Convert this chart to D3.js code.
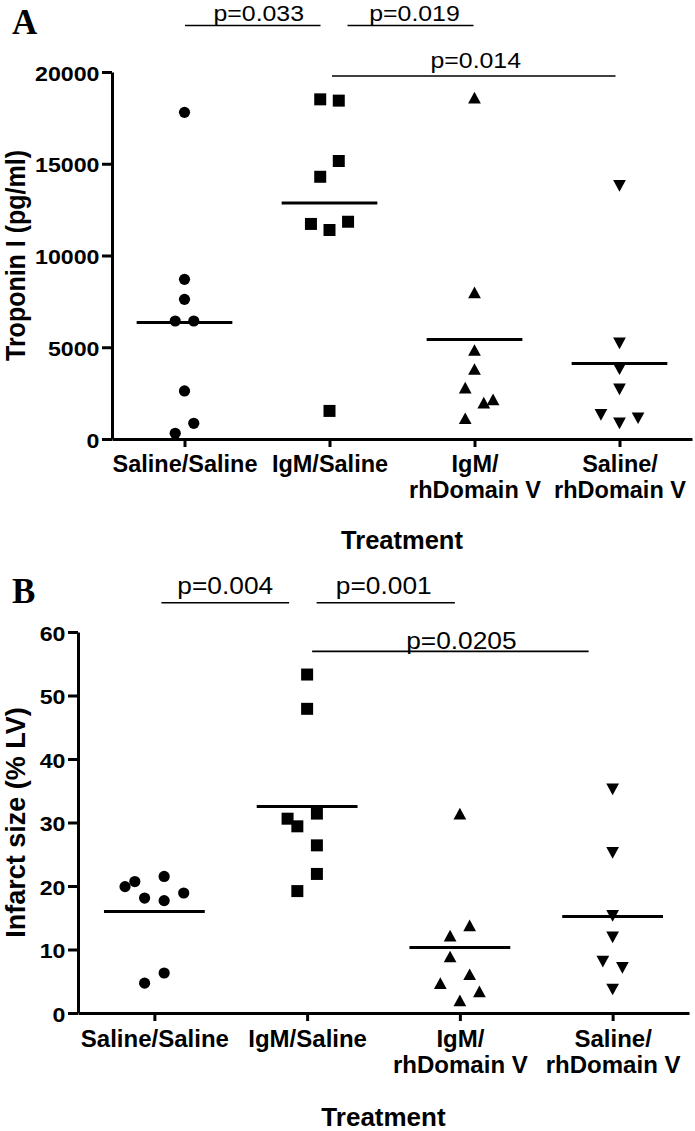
<!DOCTYPE html>
<html><head><meta charset="utf-8">
<script src="https://cdn.jsdelivr.net/npm/d3@7"></script>
<style>
html,body{margin:0;padding:0;background:#fff;}
svg{display:block;}
text{font-family:"Liberation Sans", Arial, sans-serif; fill:#000;}
</style></head><body>
<svg id="chart" width="695" height="1131"></svg>
<script>
// ---------- DATA ----------
const categories = ["Saline/Saline", "IgM/Saline", "IgM/\nrhDomain V", "Saline/\nrhDomain V"];

// Panel A – Troponin I (pg/ml)
const troponinSalineSaline  = [17800, 8700, 7610, 6430, 6430, 2620, 855, 310];
const troponinIgMSaline     = [18510, 18440, 15150, 14290, 11720, 11390, 11840, 1530];
const troponinIgMDomainV    = [18600, 7990, 4850, 3815, 2800, 1980, 2160, 1130];
const troponinSalineDomainV = [13800, 5210, 3800, 2710, 1310, 855, 1130];
// horizontal jitter slot of each point (column index within its group)
const troponinSlots = [[0,0,0,-1,1,0,1,-1], [-1,1,1,-1,-2,0,2,0], [0,0,0,0,-1,1,2,-1], [0,0,0,0,-2,0,2]];
const troponinTicks = [0, 5000, 10000, 15000, 20000];
const troponinPLabels = ["p=0.033", "p=0.019", "p=0.014"];
const troponinPFrom = [0, 1, 1];
const troponinPTo   = [1, 2, 3];
const troponinPLevel = [22530, 22530, 19780];

// Panel B – Infarct size (% LV)
const infarctSalineSaline  = [19.9, 20.7, 21.5, 18.1, 17.7, 18.9, 6.3, 4.7];
const infarctIgMSaline     = [53.3, 47.9, 30.6, 29.4, 31.4, 26.4, 21.9, 19.2];
const infarctIgMDomainV    = [31.4, 13.8, 12.2, 8.9, 6.1, 4.7, 3.4, 2.0];
const infarctSalineDomainV = [35.2, 25.2, 15.3, 11.9, 8.1, 7.1, 3.7];
const infarctSlots = [[-3,-2,1,-1,1,3,1,-1], [0,0,-2,-1,1,1,1,-1], [0,1,-1,-1,1,-2,2,0], [0,0,0,0,-1,1,0]];
const infarctTicks = [0, 10, 20, 30, 40, 50, 60];
const infarctPLabels = ["p=0.004", "p=0.001", "p=0.0205"];
const infarctPFrom = [0, 1, 1];
const infarctPTo   = [1, 2, 3];
const infarctPLevel = [64.6, 64.6, 56.95];

// ---------- SYMBOLS ----------
const triUp = { draw(ctx, size) { const w = Math.sqrt(size), h = w * 0.92;
  ctx.moveTo(0, -h/2); ctx.lineTo(w/2, h/2); ctx.lineTo(-w/2, h/2); ctx.closePath(); } };
const triDown = { draw(ctx, size) { const w = Math.sqrt(size), h = w * 0.92;
  ctx.moveTo(0, h/2); ctx.lineTo(w/2, -h/2); ctx.lineTo(-w/2, -h/2); ctx.closePath(); } };
const symbols = [
  d3.symbol().type(d3.symbolCircle).size(Math.PI * 5.6 * 5.6),
  d3.symbol().type(d3.symbolSquare).size(144),
  d3.symbol().type(triUp).size(162),
  d3.symbol().type(triDown).size(162)
];

const svg = d3.select("#chart");

function panel(cfg) {
  const g = svg.append("g");
  const x = d3.scalePoint().domain(categories).range([cfg.left, cfg.right]).padding(0.5);
  const y = d3.scaleLinear().domain([0, cfg.max]).range([cfg.bottom, cfg.top]);
  const step = x.step();

  // y axis
  const ya = g.append("g").attr("transform", `translate(${cfg.left},0)`)
    .call(d3.axisLeft(y).tickValues(cfg.ticks).tickFormat(d3.format("d")).tickSize(10).tickSizeOuter(0));
  ya.select(".domain").attr("stroke-width", 3).attr("stroke", "#000");
  ya.selectAll(".tick line").attr("stroke-width", 3).attr("stroke", "#000");
  ya.selectAll(".tick text")
    .attr("x", 0).attr("dy", "0.4em")
    .attr("transform", `translate(-12.5,0) scale(${cfg.ytScale},1)`)
    .style("font-size", cfg.ytSize + "px").style("font-weight", "bold")
    .attr("fill", "#000");

  // x axis
  const xa = g.append("g").attr("transform", `translate(0,${cfg.bottom})`)
    .call(d3.axisBottom(x).tickSize(8).tickSizeOuter(0));
  xa.select(".domain").attr("stroke-width", 3).attr("stroke", "#000");
  xa.selectAll(".tick line").attr("stroke-width", 3).attr("stroke", "#000");
  xa.selectAll(".tick text").each(function(d) {
    const t = d3.select(this);
    t.text(null).attr("y", 0).attr("dy", null)
      .style("font-size", cfg.xtSize + "px").style("font-weight", "bold").attr("fill", "#000");
    d.split("\n").forEach((line, i) => {
      t.append("tspan").attr("x", 0).attr("y", cfg.xtOffset + i * cfg.xtLine).text(line);
    });
  });

  // axis titles
  g.append("text").attr("x", (cfg.left + cfg.right) / 2).attr("y", cfg.bottom + cfg.titleOffset)
    .attr("text-anchor", "middle").style("font-size", cfg.titleSize + "px").style("font-weight", "bold")
    .text("Treatment");
  g.append("text")
    .attr("transform", `translate(${cfg.ylabX},${(cfg.top + cfg.bottom) / 2}) rotate(-90) scale(1,${cfg.ylabScale})`)
    .attr("text-anchor", "middle").style("font-size", cfg.ylabSize + "px").style("font-weight", "bold")
    .text(cfg.ylabel);

  // panel letter
  g.append("text").attr("x", cfg.letterX).attr("y", cfg.letterY)
    .style("font-family", '"Liberation Serif", "Times New Roman", serif')
    .style("font-size", "35px").style("font-weight", "bold").text(cfg.letter);

  // points
  cfg.series.forEach((vals, ci) => {
    const cx = x(categories[ci]);
    g.append("g").selectAll("path").data(vals).join("path")
      .attr("d", symbols[ci])
      .attr("transform", (v, i) => `translate(${cx + cfg.slots[ci][i] * step * 0.064},${y(v)})`)
      .attr("fill", "#000");
    // mean line
    const m = d3.mean(vals);
    g.append("line").attr("x1", cx - step * 0.33).attr("x2", cx + step * 0.33)
      .attr("y1", y(m)).attr("y2", y(m)).attr("stroke", "#000").attr("stroke-width", 3);
  });

  // significance bars
  cfg.pLabels.forEach((lab, i) => {
    const x1 = x(categories[cfg.pFrom[i]]) + cfg.pInset[i][0];
    const x2 = x(categories[cfg.pTo[i]]) + cfg.pInset[i][1];
    const yy = y(cfg.pLevel[i]);
    g.append("line").attr("x1", x1).attr("x2", x2).attr("y1", yy).attr("y2", yy)
      .attr("stroke", "#000").attr("stroke-width", 1.6);
    g.append("text")
      .attr("transform", `translate(${(x1 + x2) / 2 + cfg.pDx[i]},${yy - cfg.pGap[i]}) scale(${cfg.pScale},1)`)
      .attr("text-anchor", "middle").style("font-size", cfg.pSize + "px").text(lab);
  });
}

panel({
  left: 112, right: 692, top: 72, bottom: 439, max: 20000, ticks: troponinTicks,
  series: [troponinSalineSaline, troponinIgMSaline, troponinIgMDomainV, troponinSalineDomainV],
  slots: troponinSlots,
  ytSize: 20, ytScale: 1.16, xtSize: 23.5, xtOffset: 33, xtLine: 26,
  titleSize: 25.5, titleOffset: 110,
  ylabel: "Troponin I (pg/ml)", ylabX: 25, ylabSize: 25, ylabScale: 1.12,
  letter: "A", letterX: 12, letterY: 34,
  pLabels: troponinPLabels, pFrom: troponinPFrom, pTo: troponinPTo, pLevel: troponinPLevel,
  pInset: [[0.5, -9], [18, -1], [2.5, -4]], pDx: [6, 4, 2], pGap: [5, 5, 8],
  pSize: 22, pScale: 1.13
});

panel({
  left: 78, right: 689, top: 632, bottom: 1013, max: 60, ticks: infarctTicks,
  series: [infarctSalineSaline, infarctIgMSaline, infarctIgMDomainV, infarctSalineDomainV],
  slots: infarctSlots,
  ytSize: 20.5, ytScale: 1.13, xtSize: 24, xtOffset: 34, xtLine: 26,
  titleSize: 26, titleOffset: 113,
  ylabel: "Infarct size (% LV)", ylabX: 25, ylabSize: 27, ylabScale: 1.04,
  letter: "B", letterX: 12, letterY: 602.7,
  pLabels: infarctPLabels, pFrom: infarctPFrom, pTo: infarctPTo, pLevel: infarctPLevel,
  pInset: [[7, -18], [9.5, -5], [5, -24]], pDx: [0, -2, 11], pGap: [9, 9, 2.5],
  pSize: 23.5, pScale: 1.12
});
</script>
</body></html>
